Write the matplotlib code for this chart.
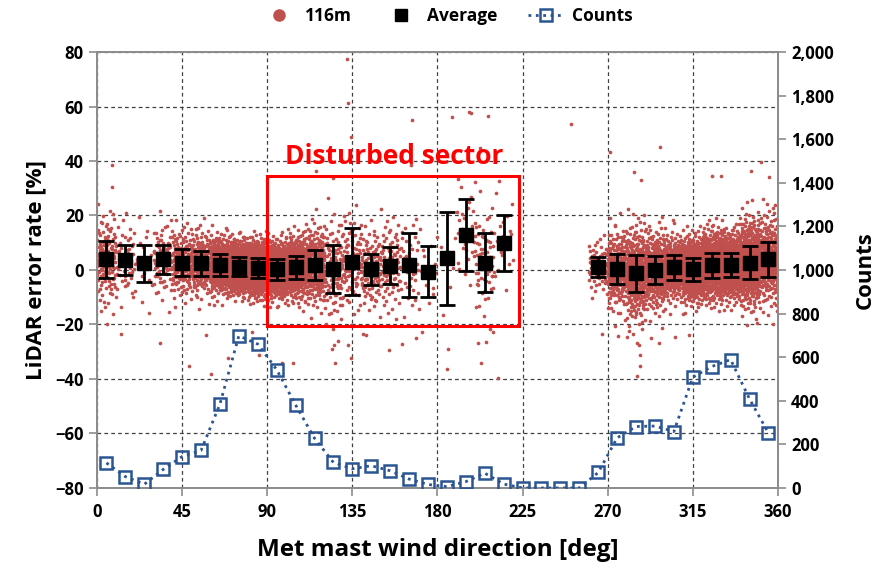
import matplotlib
matplotlib.use("Agg")
import matplotlib.pyplot as plt
from matplotlib.patches import Rectangle
from matplotlib.ticker import FuncFormatter
from matplotlib.lines import Line2D
from statistics import NormalDist

# ---------------- data ----------------
bin_centers = [5, 15, 25, 35, 45, 55, 65, 75, 85, 95, 105, 115, 125, 135, 145, 155, 165, 175,
               185, 195, 205, 215, 225, 235, 245, 255, 265, 275, 285, 295, 305, 315, 325, 335,
               345, 355]
counts = [115, 52, 17, 85, 144, 172, 385, 698, 660, 543, 381, 228, 117, 88, 102, 79, 41, 16,
          6, 29, 68, 18, 0, 0, 0, 0, 71, 230, 282, 284, 259, 508, 557, 589, 408, 252]

avg_dirs = [5, 15, 25, 35, 45, 55, 65, 75, 85, 95, 105, 115, 125, 135, 145, 155, 165, 175,
            185, 195, 205, 215, 265, 275, 285, 295, 305, 315, 325, 335, 345, 355]
avg_err = [3.9, 3.7, 2.4, 3.9, 2.7, 2.4, 1.8, 1.2, 0.6, 0.2, 1.0, 1.8, 0.2, 3.0, 0.2, 1.6, 1.8,
           -0.6, 4.3, 12.8, 2.7, 9.8, 1.2, 0.2, -1.2, 0.0, 1.0, 0.2, 1.8, 1.8, 2.7, 3.9]
std_err = [6.9, 5.5, 6.9, 5.2, 4.9, 4.6, 3.9, 3.4, 3.7, 3.7, 4.3, 5.5, 8.8, 12.3, 5.7, 6.9, 11.8,
           9.4, 17.0, 13.1, 10.8, 10.3, 3.7, 5.5, 6.8, 5.3, 4.6, 4.3, 4.6, 4.4, 6.1, 6.3]

# isolated 116m points (direction, error rate)
outlier_dir = [132.4, 132.8, 166.7, 134.5, 7.8, 7.8, 115.7, 125.0, 166.0, 187.7, 196.5, 197.7,
               206.7, 250.5, 202.6, 271.3, 297.7, 351.0, 284.0, 287.5, 345.6, 355.2, 325.0,
               329.7, 190.7, 200.0, 212.8,
               12.9, 33.2, 48.6, 60.4, 57.4, 69.2, 82.0, 85.6, 97.9, 103.5, 124.9, 125.2, 126.0,
               124.3, 132.6, 134.5, 140.7, 142.4, 154.3, 161.3, 168.9, 171.9, 185.4, 185.0,
               201.2, 205.8, 203.0, 211.8, 209.3, 266.9, 275.3, 280.0, 286.8, 287.1, 287.1,
               285.4, 292.8, 297.3, 298.6, 305.6, 313.1]
outlier_err = [77.3, 61.2, 55.0, 48.7, 38.5, 30.3, 36.3, 33.6, 38.5, 56.3, 58.1, 57.5, 56.5,
               53.6, 44.7, 43.4, 45.0, 39.5, 35.8, 33.0, 36.3, 34.2, 34.6, 34.5, 33.3, 32.4,
               32.8,
               -23.5, -26.9, -35.2, -38.2, -23.9, -32.4, -22.9, -31.2, -34.3, -34.3, -21.7,
               -27.5, -34.3, -29.1, -27.5, -32.4, -23.5, -23.9, -29.4, -27.3, -25.1, -22.6,
               -29.1, -36.3, -26.9, -26.5, -34.3, -39.7, -22.9, -23.6, -24.2, -24.5, -27.5,
               -31.2, -35.2, -38.9, -25.1, -26.9, -21.2, -24.5, -23.9]

x_ticks = [0, 45, 90, 135, 180, 225, 270, 315, 360]
y_ticks = [-80, -60, -40, -20, 0, 20, 40, 60, 80]
count_ticks = list(range(0, 2001, 200))
sector_from, sector_to = 90, 223
sector_low, sector_high = -20.5, 34.5


# ---------------- dense 116m cloud built from the per-bin statistics ----------------
# deterministic placement (Halton low-discrepancy points) using bin count, mean, spread
def radical_inverse(k, base):
    f, r = 1.0, 0.0
    while k > 0:
        f /= base
        r += f * (k % base)
        k //= base
    return r


nd = NormalDist()
cloud_x, cloud_y = [], []
avg_lookup = dict(zip(avg_dirs, zip(avg_err, std_err)))
offset = 1
for c, n in zip(bin_centers, counts):
    if n == 0 or c not in avg_lookup:
        continue
    m, s = avg_lookup[c]
    s = min(s, 7.0)
    for k in range(n):
        idx = offset + k
        u = radical_inverse(idx, 2)
        v = radical_inverse(idx, 3)
        v = min(max(v, 0.002), 0.998)
        cloud_x.append(c - 5 + 10 * u)
        cloud_y.append(m + 1.3 * s * nd.inv_cdf(v))
    offset += n + 7

# ---------------- plotting ----------------
plt.rcParams['font.family'] = ['Open Sans', 'DejaVu Sans']
plt.rcParams['font.weight'] = 'bold'

fig = plt.figure(figsize=(8.85, 5.69), dpi=100)
ax = fig.add_axes([0.1096, 0.1424, 0.7694, 0.7662])
ax2 = ax.twinx()

red = '#C0504D'
blue = '#2B5592'
spine_c = '#8C8C8C'

ax.scatter(cloud_x, cloud_y, s=7, color=red, linewidths=0, zorder=2)
ax.scatter(outlier_dir, outlier_err, s=7, color=red, linewidths=0, zorder=2)

ax.errorbar(avg_dirs, avg_err, yerr=std_err, fmt='s', color='black', ms=9.5, mec='black',
            elinewidth=2, capsize=6, capthick=2, zorder=4)

ax.add_patch(Rectangle((sector_from, sector_low), sector_to - sector_from,
                       sector_high - sector_low, fill=False, edgecolor='#FF0000', lw=2.2,
                       zorder=5))
ax.text((sector_from + sector_to) / 2 + 0.5, 41.5, 'Disturbed sector', color='#FF0000',
        fontsize=19, fontweight='bold', ha='center', va='center', zorder=5)

ax2.plot(bin_centers, counts, color=blue, ls=':', lw=2, marker='s', ms=9, mfc='none',
         mec=blue, mew=1.8, zorder=3)

ax.set_xlim(0, 360)
ax.set_ylim(-80, 80)
ax2.set_ylim(0, 2000)
ax.set_xticks(x_ticks)
ax.set_yticks(y_ticks)
ax2.set_yticks(count_ticks)
ax2.yaxis.set_major_formatter(FuncFormatter(lambda v, p: f'{int(v):,}'))

ax.grid(True, ls=(0, (3, 2.5)), color='#404040', lw=0.9)
ax.set_axisbelow(True)

for a in (ax, ax2):
    for sp in a.spines.values():
        sp.set_color(spine_c)
        sp.set_linewidth(1.3)
    a.tick_params(colors=spine_c, labelcolor='black', labelsize=12, length=6, width=1.2)
for lab in ax.get_xticklabels() + ax.get_yticklabels() + ax2.get_yticklabels():
    lab.set_fontweight('bold')

ax.tick_params(axis='x', pad=5)
ax.set_xlabel('Met mast wind direction [deg]', fontsize=17.5, fontweight='bold', labelpad=12)
ax.set_ylabel('LiDAR error rate [%]', fontsize=16, fontweight='bold', labelpad=6)
ax2.set_ylabel('Counts', fontsize=16, fontweight='bold', labelpad=15)

handles = [
    Line2D([], [], ls='none', marker='o', color=red, ms=8),
    Line2D([], [], ls='none', marker='s', color='black', ms=8),
    Line2D([], [], ls=':', lw=2, color=blue, marker='s', ms=8, mfc='none', mew=1.8),
]
fig.legend(handles, ['116m', 'Average', 'Counts'], loc='center', bbox_to_anchor=(0.505, 0.972),
           ncol=3, frameon=False, handlelength=2.0, columnspacing=1.8,
           handletextpad=0.5, prop={'weight': 'bold', 'size': 12.5})

fig.savefig('out.png', dpi=100)
